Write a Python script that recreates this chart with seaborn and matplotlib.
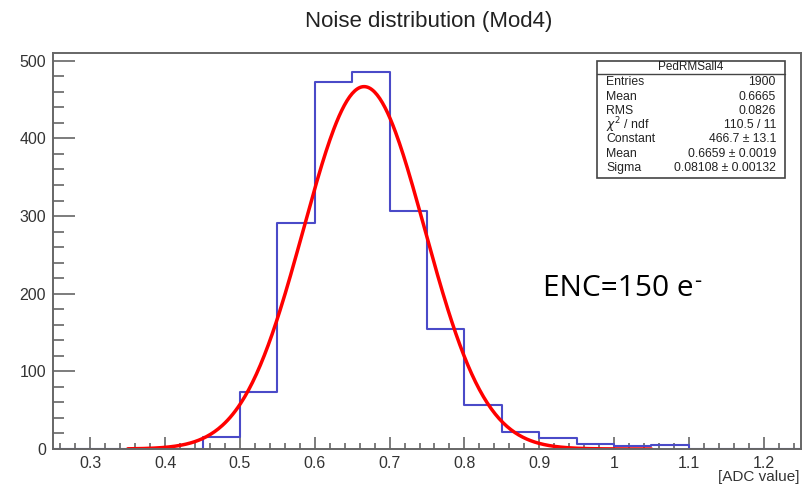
import numpy as np
import matplotlib
matplotlib.use('Agg')
import matplotlib.pyplot as plt
import seaborn as sns
from matplotlib.patches import Rectangle
from matplotlib.ticker import MultipleLocator

# Histogram bins (0.05 wide) and counts
bin_edges = [0.25, 0.30, 0.35, 0.40, 0.45, 0.50, 0.55, 0.60, 0.65, 0.70, 0.75,
             0.80, 0.85, 0.90, 0.95, 1.00, 1.05, 1.10, 1.15, 1.20, 1.25]
counts = [0, 0, 0, 0, 15, 73, 291, 473, 486, 307, 155,
          57, 22, 14, 6, 4, 5, 0, 0, 0]

# Gaussian fit parameters from the stats box
fit_constant = 466.7
fit_mean = 0.6659
fit_sigma = 0.08108
fit_range = (0.35, 1.05)

# Stats box text
stats_title = 'PedRMSall4'
stats_labels = ['Entries', 'Mean', 'RMS', r'$\chi^2$ / ndf', 'Constant', 'Mean', 'Sigma']
stats_values = ['1900', '0.6665', '0.0826', '110.5 / 11', '466.7 \u00b1 13.1',
                '0.6659 \u00b1 0.0019', '0.08108 \u00b1 0.00132']

sns.set_style('white')
plt.rcParams['font.family'] = ['Liberation Sans', 'DejaVu Sans']

W, H = 804, 484
fig = plt.figure(figsize=(W / 100, H / 100), dpi=100)
# axes frame: x 53..801, y 53..449 (pixels)
ax = fig.add_axes([53 / W, 1 - 449 / H, 748 / W, 396 / H])

bin_centers = [(a + b) / 2 for a, b in zip(bin_edges[:-1], bin_edges[1:])]
sns.histplot(x=bin_centers, weights=counts, bins=bin_edges, element='step',
             fill=False, color='#4a4ac8', linewidth=1.5, ax=ax)

fit_x = np.linspace(fit_range[0], fit_range[1], 400)
fit_y = fit_constant * np.exp(-0.5 * ((fit_x - fit_mean) / fit_sigma) ** 2)
sns.lineplot(x=fit_x, y=fit_y, color='red', linewidth=2.5, ax=ax)

ax.set_xlim(0.25, 1.25)
ax.set_ylim(0, 510)
ax.set_xlabel('')
ax.set_ylabel('')

ax.xaxis.set_major_locator(MultipleLocator(0.1))
ax.xaxis.set_minor_locator(MultipleLocator(0.02))
ax.yaxis.set_major_locator(MultipleLocator(100))
ax.yaxis.set_minor_locator(MultipleLocator(20))
ax.set_xticks([0.3, 0.4, 0.5, 0.6, 0.7, 0.8, 0.9, 1.0, 1.1, 1.2])
ax.set_xticklabels(['0.3', '0.4', '0.5', '0.6', '0.7', '0.8', '0.9', '1', '1.1', '1.2'])

axis_col = '#666666'
for s in ax.spines.values():
    s.set_color(axis_col)
    s.set_linewidth(1.4)
ax.tick_params(axis='both', which='both', direction='in', color=axis_col,
               labelcolor='#333333', labelsize=11.5, width=1.2,
               bottom=True, left=True, top=False, right=False)
ax.tick_params(axis='x', which='major', length=9, pad=5)
ax.tick_params(axis='x', which='minor', length=4.5)
ax.tick_params(axis='y', which='major', length=16, pad=5)
ax.tick_params(axis='y', which='minor', length=8)

# title and axis label
fig.text(428.5 / W, 1 - 22 / H, 'Noise distribution (Mod4)', ha='center', va='center',
         fontsize=16, color='#222222')
fig.text(800 / W, 1 - 477 / H, '[ADC value]', ha='right', va='center',
         fontsize=11, color='#333333')

# ENC annotation
fig.text(543 / W, 1 - 296 / H, 'ENC=150 e', ha='left', va='baseline',
         fontsize=21.5, color='black', family=['Open Sans', 'DejaVu Sans'])
fig.text(694 / W, 1 - 281 / H, '-', ha='left', va='center',
         fontsize=16, color='black', family=['Open Sans', 'DejaVu Sans'])

# stats box
box_l, box_t, box_r, box_b = 597, 61, 785, 178
fig.add_artist(Rectangle((box_l / W, 1 - box_b / H), (box_r - box_l) / W,
                         (box_b - box_t) / H, transform=fig.transFigure,
                         facecolor='white', edgecolor='#444444', linewidth=1.2))
fig.add_artist(plt.Line2D([box_l / W, box_r / W], [1 - 74 / H, 1 - 74 / H],
                          transform=fig.transFigure, color='#444444', linewidth=1.0))
fig.text((box_l + box_r) / 2 / W, 1 - 67.5 / H, stats_title, ha='center', va='center',
         fontsize=8.5, color='#222222')
row_y = [82, 96.5, 110.5, 125, 139.5, 154, 168]
for lab, val, y in zip(stats_labels, stats_values, row_y):
    fig.text(606 / W, 1 - y / H, lab, ha='left', va='center', fontsize=8.8, color='#222222')
    fig.text(776 / W, 1 - y / H, val, ha='right', va='center', fontsize=8.8, color='#222222')

fig.savefig('out.png', dpi=100)
